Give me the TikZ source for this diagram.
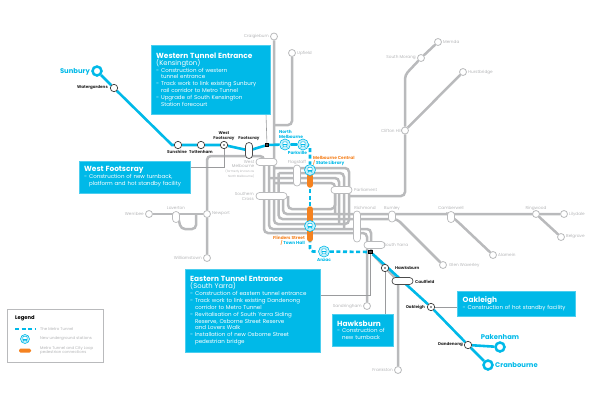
\documentclass[tikz,border=0pt]{standalone}
\usepackage{fontspec}
\setmainfont{Poppins}
\usetikzlibrary{backgrounds,calc}
\definecolor{mblue}{HTML}{00B9E8}
\definecolor{mgrey}{HTML}{B9BABC}
\definecolor{mtext}{HTML}{B4B5B7}
\definecolor{morange}{HTML}{F58220}
\definecolor{bline}{HTML}{9A9B9D}
\tikzset{
  x=1pt,y=-1pt,
  rail/.style={draw=mgrey,line width=2.5pt,rounded corners=4pt},
  metro/.style={draw=mblue,line width=2.6pt},
  tunnel/.style={draw=mblue,line width=2.6pt,dash pattern=on 4pt off 2.6pt},
  leader/.style={draw=bline,line width=0.6pt},
  stn/.style={circle,draw=mgrey,fill=white,line width=0.8pt,minimum size=7pt,inner sep=0pt},
  bstn/.style={circle,draw=black!75,fill=white,line width=0.7pt,minimum size=7.4pt,inner sep=0pt},
  dstn/.style={bstn,path picture={\fill[black!80] (path picture bounding box.center) circle (0.9pt);}},
  term/.style={circle,draw=mblue,fill=white,line width=2.5pt,minimum size=9pt,inner sep=0pt},
  pill/.style={draw=mgrey,fill=white,line width=0.7pt,rounded corners=3.4pt,inner sep=0pt},
  bpill/.style={pill,draw=black!70},
  under/.style={circle,draw=mblue,fill=mblue!22,line width=0.6pt,minimum size=11pt,inner sep=0pt,
    path picture={
      \coordinate (pc) at (path picture bounding box.center);
      \draw[mblue,line width=0.5pt,fill=white,rounded corners=0.8pt] ($(pc)+(-2.2,-2.6)$) rectangle ($(pc)+(2.2,1.6)$);
      \draw[mblue,line width=0.5pt] ($(pc)+(-2.2,-0.2)$) -- ($(pc)+(2.2,-0.2)$);
      \draw[mblue,line width=0.5pt] ($(pc)+(-1.5,1.6)$) -- ($(pc)+(-2.3,3.2)$) ($(pc)+(1.5,1.6)$) -- ($(pc)+(2.3,3.2)$);
    }},
  sq/.style={draw=black,fill=black!70,line width=0.8pt,minimum size=3.6pt,inner sep=0pt},
  glab/.style={text=mtext,font=\fontsize{4.2}{4.8}\selectfont,inner sep=0pt,align=center},
  klab/.style={text=black!85,font=\fontsize{4.1}{4.9}\selectfont\bfseries,inner sep=0pt,align=center},
  ulab/.style={text=mblue,font=\fontsize{4.3}{5}\selectfont\bfseries,inner sep=0pt,align=left},
  olab/.style={text=morange,font=\fontsize{4.3}{5}\selectfont\bfseries,inner sep=0pt},
  tlab/.style={text=mblue,font=\fontsize{6.8}{8}\selectfont\bfseries,inner sep=0pt},
  infobox/.style={fill=mblue,draw=mblue!70,line width=0.4pt,text=white,anchor=north west,align=left,inner xsep=5.5pt,inner ysep=0pt,
    font=\fontsize{5.5}{6.9}\selectfont},
  orangebar/.style={draw=morange,line width=5.5pt,line cap=round},
}
\newcommand{\boxhead}[1]{{\fontsize{7.4}{8.4}\selectfont\bfseries #1}}
\newcommand{\boxsub}[1]{{\fontsize{6.8}{8.4}\selectfont #1}}
\begin{document}
\begin{tikzpicture}
\useasboundingbox (0,0) rectangle (592,400);
% --- orange connections
\draw[orangebar] (310,176) -- (310,185);
\draw[orangebar] (310,209) -- (310,239);
% --- pills
\node[pill,minimum width=21pt,minimum height=7pt] (westp) at (266.5,162) {};
\node[pill,minimum width=7pt,minimum height=21pt] (flagp) at (297,175.5) {};
\node[pill,minimum width=31pt,minimum height=7pt] (scp) at (271.5,196) {};
\node[pill,minimum width=21pt,minimum height=7pt] (parlp) at (341.5,190) {};
\node[pill,minimum width=7pt,minimum height=31pt] (richp) at (357,226.5) {};
\node[pill,minimum width=7pt,minimum height=11pt] (burnp) at (392,216.5) {};
\node[pill,minimum width=7pt,minimum height=11pt] (camp) at (451,217) {};
\node[pill,minimum width=21pt,minimum height=7pt] (syp) at (374.5,245) {};
\node[pill,minimum width=7pt,minimum height=11pt] (lavp) at (176,217) {};
\node[bpill,minimum width=7pt,minimum height=16pt] (footp) at (249,150.5) {};
\node[bpill,minimum width=21pt,minimum height=7pt] (caulp) at (402.5,281) {};
% --- grey stations
\node[stn] (craig) at (274,36.5) {};
\node[stn] (upf) at (292,53) {};
\node[stn] (mern) at (438,42) {};
\node[stn] (smor) at (421,58) {};
\node[stn] (hurst) at (463,72) {};
\node[stn] (clift) at (405,130.5) {};
\node[stn] (lily) at (564,214) {};
\node[stn] (ring) at (536,214) {};
\node[stn] (belg) at (561,237) {};
\node[stn] (alam) at (493,255) {};
\node[stn] (glen) at (443,265) {};
\node[stn] (sand) at (367,306) {};
\node[stn] (frank) at (398,370) {};
\node[stn] (werr) at (149,214) {};
\node[stn] (newp) at (207,214) {};
\node[stn] (will) at (207,258) {};
% --- metro stations
\node[term] (sunb) at (97,71) {};
\node[term] (pak) at (500,347) {};
\node[term] (cran) at (488,365) {};
\node[bstn] (wat) at (114,88) {};
\node[bstn] (suns) at (178,145) {};
\node[bstn] (tott) at (201,145) {};
\node[dstn] (wfoot) at (224,145) {};
\node[dstn] (hawk) at (385,268) {};
\node[dstn] (oak) at (431,307) {};
\node[bstn] (dand) at (468,345) {};
\node[sq] (wport) at (267,145) {};
\node[sq] (eport) at (370.5,252) {};
\coordinate (kink) at (172,145);
% --- underground stations
\node[under] (nmelb) at (285,144.5) {};
\node[under] (park) at (303,144.5) {};
\node[under] (mcen) at (310,170) {};
\node[under] (flin) at (310,226) {};
\node[under] (anz) at (324,251.5) {};
% --- lines
\begin{scope}[on background layer]
  % east
  \draw[rail] (mern) -- (smor);
  \draw[rail] (smor) -- (405,75) -- (clift);
  \draw[rail] (clift) -- (hurst);
  \draw[rail] (clift) -- (405,196) -- (349,196);
  \draw[rail] (283,196) -- (283,214) -- (ring.center) -- (lily);
  \draw[rail] (ring) -- (belg);
  \draw[rail] (278.5,173) -- (278.5,219) -- (397,219) -- (glen);
  \draw[rail] (446,213) -- (456,220) -- (alam);
  % west
  \draw[rail] (will) -- (newp) -- (207,156) -- (264,156) -- (264,233) -- (367,233) -- (sand);
  \draw[rail] (werr) -- (newp);
  \draw[rail] (178,217) -- (181,229) -- (196,229) -- (196,214);
  \draw[rail] (269,162) -- (269,229) -- (371,229) -- (371,252);
  \draw[rail] (craig) -- (274,224) -- (349,224) -- (349,168) -- (274,168);
  \draw[rail] (upf) -- (292,125) -- (274,125);
  \draw[rail] (344,229) -- (344,173) -- (278.5,173);
  \draw[rail] (339,224) -- (339,178) -- (269,178);
  \draw[rail] (335,214) -- (335,183) -- (274,183);
  \draw[rail] (335,190) -- (335,209) -- (288,209) -- (288,196);
  % south-east
  \draw[rail] (eport) -- (398,281) -- (frank);
  % leaders
  \draw[leader] (wport) -- (266,114);
  \draw[leader] (wfoot) -- (224,167) -- (189,167);
  \draw[leader] (eport) -- (370.5,295) -- (319,295);
  \draw[leader] (hawk) -- (385,314);
  \draw[leader] (oak) -- (457,307);
  % metro
  \draw[metro] (sunb) -- (wat) -- (kink) -- (suns) -- (tott) -- (wfoot) -- (footp) -- (wport) -- (nmelb);
  \draw[metro] (nmelb) -- (park);
  \draw[metro] (eport) -- (oak) -- (dand) -- (cran);
  \draw[metro] (dand) -- (pak);
  \draw[tunnel,rounded corners=3pt] (park) -- (310,145) -- (mcen);
  \draw[tunnel] (mcen) -- (flin);
  \draw[tunnel,rounded corners=3pt] (flin) -- (310,251.5) -- (anz);
  \draw[tunnel] (anz) -- (eport);
\end{scope}
% --- information boxes
\node[infobox,minimum height=69pt,text width=108pt] (wbox) at (150.5,45) {\boxhead{Western Tunnel Entrance}\\\boxsub{(Kensington)}\\- Construction of western\\\hphantom{- }tunnel entrance\\- Track work to link existing Sunbury\\\hphantom{- }rail corridor to Metro Tunnel\\- Upgrade of South Kensington\\\hphantom{- }Station forecourt};
\node[infobox,minimum height=31.5pt,text width=100pt] (wfbox) at (78.5,161) {\boxhead{West Footscray}\\- Construction of new turnback,\\\hphantom{- }platform and hot standby facility};
\node[infobox,minimum height=83pt,text width=124pt] (ebox) at (184.5,269) {\boxhead{Eastern Tunnel Entrance}\\\boxsub{(South Yarra)}\\- Construction of eastern tunnel entrance\\- Track work to link existing Dandenong\\\hphantom{- }corridor to Metro Tunnel\\- Revitalisation of South Yarra Siding\\\hphantom{- }Reserve, Osborne Street Reserve\\\hphantom{- }and Lovers Walk\\- Installation of new Osborne Street\\\hphantom{- }pedestrian bridge};
\node[infobox,minimum height=32pt,text width=50pt] (hbox) at (331.5,314) {\boxhead{Hawksburn}\\- Construction of\\\hphantom{- }new turnback};
\node[infobox,minimum height=25pt,text width=107pt] (obox) at (457,291) {\boxhead{Oakleigh}\\- Construction of hot standby facility};
% --- legend
\node[draw=mgrey,line width=0.8pt,fill=white,minimum width=96pt,minimum height=53pt,anchor=north west] (legbox) at (7,309) {};
\node[anchor=west,inner sep=0pt,text=black,font=\fontsize{5.2}{6}\selectfont\bfseries] (legt) at (15,318.5) {Legend};
\coordinate (lega) at (15,329);
\coordinate (legb) at (35,329);
\draw[tunnel] (lega) -- (legb);
\node[under,minimum size=9pt] (legs) at (25,339) {};
\node[inner sep=0pt,fill=morange,rounded corners=1.5pt,minimum width=12pt,minimum height=4pt] (lego) at (25,350.5) {};
\node[glab,anchor=west,font=\fontsize{3.9}{4.9}\selectfont] (legl1) at (40,329) {The Metro Tunnel};
\node[glab,anchor=west,font=\fontsize{3.9}{4.9}\selectfont] (legl2) at (40,338.5) {New underground stations};
\node[glab,anchor=west,align=left,font=\fontsize{3.9}{4.9}\selectfont] (legl3) at (40,350.5) {Metro Tunnel and City Loop\\pedestrian connections};
% --- grey labels
\node[glab,anchor=east] (l1) at (269,36.7) {Craigieburn};
\node[glab,anchor=west] (l2) at (297,53) {Upfield};
\node[glab,anchor=west] (l3) at (443,42) {Mernda};
\node[glab,anchor=east] (l4) at (416,58) {South Morang};
\node[glab,anchor=west] (l5) at (468,72) {Hurstbridge};
\node[glab,anchor=east] (l6) at (402,131) {Clifton Hill};
\node[glab,anchor=west] (l7) at (354,189.5) {Parliament};
\node[glab] (l8) at (365,208) {Richmond};
\node[glab] (l9) at (392,208) {Burnley};
\node[glab] (l10) at (451,208) {Camberwell};
\node[glab] (l11) at (536,208) {Ringwood};
\node[glab,anchor=west] (l12) at (569,214) {Lilydale};
\node[glab,anchor=west] (l13) at (566,237) {Belgrave};
\node[glab,anchor=west] (l14) at (498,255) {Alamein};
\node[glab,anchor=west] (l15) at (449,265) {Glen Waverley};
\node[glab,anchor=west] (l16) at (383.5,245) {South Yarra};
\node[glab,anchor=east] (l17) at (362,306) {Sandringham};
\node[glab,anchor=east] (l18) at (393,370) {Frankston};
\node[glab,anchor=east] (l19) at (144,214) {Werribee};
\node[glab] (l20) at (176,208) {Laverton};
\node[glab,anchor=west] (l21) at (212,214) {Newport};
\node[glab,anchor=east] (l22) at (202,258) {Williamstown};
\node[glab] (l23) at (297,162) {Flagstaff};
\node[glab,anchor=east,align=right] (l24) at (254,196.5) {Southern\\Cross};
\node[glab,anchor=north east,align=right] (l25) at (254.5,160) {West\\Melbourne\\{\fontsize{3}{4}\selectfont (formerly known as}\\{\fontsize{3}{4}\selectfont North Melbourne)}};
% --- black labels
\node[klab,anchor=east] (k1) at (108,88) {Watergardens};
\node[klab] (k2) at (177,152) {Sunshine};
\node[klab] (k3) at (201,152) {Tottenham};
\node[klab] (k4) at (224,136.5) {West\\Footscray};
\node[klab] (k5) at (249,139) {Footscray};
\node[klab,anchor=west] (k6) at (395,268) {Hawksburn};
\node[klab,anchor=west] (k7) at (415,281.5) {Caulfield};
\node[klab,anchor=east] (k8) at (425,307.5) {Oakleigh};
\node[klab,anchor=east] (k9) at (463,345) {Dandenong};
% --- coloured labels
\node[tlab,anchor=east] (t1) at (90,72) {Sunbury};
\node[tlab] (t2) at (500,337) {Pakenham};
\node[tlab,anchor=west] (t3) at (495,365.5) {Cranbourne};
\node[ulab,anchor=west] (u1) at (279,134) {North\\Melbourne};
\node[ulab] (u2) at (297.5,153) {Parkville};
\node[ulab] (u3) at (324,260) {Anzac};
\node[olab,anchor=west,align=left] (o1) at (313,160.5) {Melbourne Central\\{\color{morange}/} {\color{mblue}State Library}};
\node[olab,anchor=east,align=right] (o2) at (305,240.5) {Flinders Street\\{\color{morange}/} {\color{mblue}Town Hall}};
\end{tikzpicture}
\end{document}
